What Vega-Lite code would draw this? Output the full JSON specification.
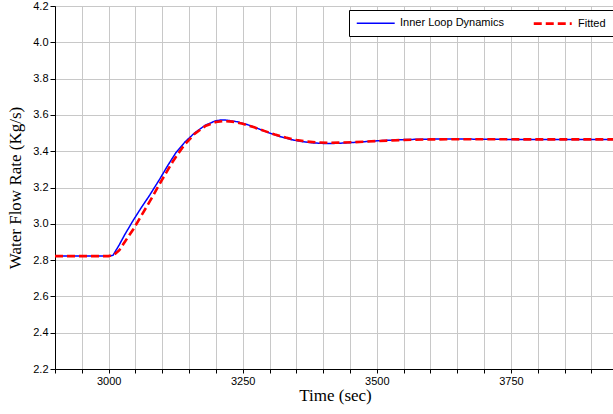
{
  "$schema": "https://vega.github.io/schema/vega-lite/v6.json",
  "autosize": "none",
  "width": 560,
  "height": 363,
  "padding": {"left": 55, "top": 6, "right": 0, "bottom": 45},
  "background": "white",
  "config": {
    "view": {"stroke": "black", "strokeWidth": 1},
    "axis": {
      "labelFont": "Liberation Sans",
      "labelFontSize": 11,
      "labelColor": "#000",
      "titleFont": "Liberation Serif",
      "titleFontSize": 17,
      "titleFontWeight": "normal",
      "titleColor": "#000",
      "domainColor": "#000",
      "tickColor": "#000",
      "gridColor": "#c8c8c8",
      "gridWidth": 1,
      "gridOpacity": 1
    },
    "legend": {
      "title": null, "orient": "none", "legendX": 294, "legendY": 4,
      "direction": "horizontal", "symbolType": "M-1,0H7", "symbolSize": 90,
      "labelFont": "Liberation Sans", "labelFontSize": 11, "labelColor": "#000",
      "labelOffset": 33, "columnPadding": 24, "padding": 7,
      "fillColor": "white", "strokeColor": "black"
    }
  },
  "data": {
    "values": [
      {"t": 2900, "v": 2.822, "s": "Inner Loop Dynamics"},
      {"t": 3000, "v": 2.822, "s": "Inner Loop Dynamics"},
      {"t": 3008, "v": 2.826, "s": "Inner Loop Dynamics"},
      {"t": 3020, "v": 2.885, "s": "Inner Loop Dynamics"},
      {"t": 3030, "v": 2.94, "s": "Inner Loop Dynamics"},
      {"t": 3046, "v": 3.02, "s": "Inner Loop Dynamics"},
      {"t": 3060, "v": 3.085, "s": "Inner Loop Dynamics"},
      {"t": 3077, "v": 3.16, "s": "Inner Loop Dynamics"},
      {"t": 3096, "v": 3.25, "s": "Inner Loop Dynamics"},
      {"t": 3110, "v": 3.32, "s": "Inner Loop Dynamics"},
      {"t": 3125, "v": 3.39, "s": "Inner Loop Dynamics"},
      {"t": 3142, "v": 3.45, "s": "Inner Loop Dynamics"},
      {"t": 3160, "v": 3.50, "s": "Inner Loop Dynamics"},
      {"t": 3180, "v": 3.543, "s": "Inner Loop Dynamics"},
      {"t": 3200, "v": 3.568, "s": "Inner Loop Dynamics"},
      {"t": 3210, "v": 3.572, "s": "Inner Loop Dynamics"},
      {"t": 3220, "v": 3.571, "s": "Inner Loop Dynamics"},
      {"t": 3240, "v": 3.562, "s": "Inner Loop Dynamics"},
      {"t": 3260, "v": 3.545, "s": "Inner Loop Dynamics"},
      {"t": 3280, "v": 3.523, "s": "Inner Loop Dynamics"},
      {"t": 3300, "v": 3.500, "s": "Inner Loop Dynamics"},
      {"t": 3320, "v": 3.480, "s": "Inner Loop Dynamics"},
      {"t": 3340, "v": 3.464, "s": "Inner Loop Dynamics"},
      {"t": 3360, "v": 3.453, "s": "Inner Loop Dynamics"},
      {"t": 3380, "v": 3.446, "s": "Inner Loop Dynamics"},
      {"t": 3400, "v": 3.443, "s": "Inner Loop Dynamics"},
      {"t": 3420, "v": 3.443, "s": "Inner Loop Dynamics"},
      {"t": 3440, "v": 3.445, "s": "Inner Loop Dynamics"},
      {"t": 3460, "v": 3.449, "s": "Inner Loop Dynamics"},
      {"t": 3480, "v": 3.453, "s": "Inner Loop Dynamics"},
      {"t": 3500, "v": 3.457, "s": "Inner Loop Dynamics"},
      {"t": 3540, "v": 3.463, "s": "Inner Loop Dynamics"},
      {"t": 3580, "v": 3.466, "s": "Inner Loop Dynamics"},
      {"t": 3620, "v": 3.467, "s": "Inner Loop Dynamics"},
      {"t": 3660, "v": 3.467, "s": "Inner Loop Dynamics"},
      {"t": 3700, "v": 3.466, "s": "Inner Loop Dynamics"},
      {"t": 3750, "v": 3.465, "s": "Inner Loop Dynamics"},
      {"t": 3800, "v": 3.464, "s": "Inner Loop Dynamics"},
      {"t": 3900, "v": 3.464, "s": "Inner Loop Dynamics"},
      {"t": 3944, "v": 3.464, "s": "Inner Loop Dynamics"},
      {"t": 2900, "v": 2.822, "s": "Fitted"},
      {"t": 3000, "v": 2.822, "s": "Fitted"},
      {"t": 3010, "v": 2.83, "s": "Fitted"},
      {"t": 3020, "v": 2.855, "s": "Fitted"},
      {"t": 3030, "v": 2.90, "s": "Fitted"},
      {"t": 3046, "v": 2.97, "s": "Fitted"},
      {"t": 3060, "v": 3.04, "s": "Fitted"},
      {"t": 3080, "v": 3.14, "s": "Fitted"},
      {"t": 3100, "v": 3.245, "s": "Fitted"},
      {"t": 3120, "v": 3.345, "s": "Fitted"},
      {"t": 3140, "v": 3.43, "s": "Fitted"},
      {"t": 3160, "v": 3.495, "s": "Fitted"},
      {"t": 3180, "v": 3.538, "s": "Fitted"},
      {"t": 3200, "v": 3.561, "s": "Fitted"},
      {"t": 3215, "v": 3.566, "s": "Fitted"},
      {"t": 3230, "v": 3.563, "s": "Fitted"},
      {"t": 3250, "v": 3.551, "s": "Fitted"},
      {"t": 3270, "v": 3.533, "s": "Fitted"},
      {"t": 3290, "v": 3.512, "s": "Fitted"},
      {"t": 3310, "v": 3.492, "s": "Fitted"},
      {"t": 3330, "v": 3.475, "s": "Fitted"},
      {"t": 3350, "v": 3.462, "s": "Fitted"},
      {"t": 3370, "v": 3.453, "s": "Fitted"},
      {"t": 3390, "v": 3.448, "s": "Fitted"},
      {"t": 3410, "v": 3.446, "s": "Fitted"},
      {"t": 3430, "v": 3.447, "s": "Fitted"},
      {"t": 3460, "v": 3.450, "s": "Fitted"},
      {"t": 3500, "v": 3.456, "s": "Fitted"},
      {"t": 3550, "v": 3.462, "s": "Fitted"},
      {"t": 3600, "v": 3.465, "s": "Fitted"},
      {"t": 3650, "v": 3.466, "s": "Fitted"},
      {"t": 3700, "v": 3.466, "s": "Fitted"},
      {"t": 3800, "v": 3.465, "s": "Fitted"},
      {"t": 3944, "v": 3.465, "s": "Fitted"}
    ]
  },
  "mark": {"type": "line", "clip": true},
  "encoding": {
    "x": {
      "field": "t", "type": "quantitative",
      "scale": {"domain": [2900, 3944], "nice": false, "zero": false},
      "axis": {
        "title": "Time (sec)",
        "values": [2900, 2950, 3000, 3050, 3100, 3150, 3200, 3250, 3300, 3350, 3400, 3450, 3500, 3550, 3600, 3650, 3700, 3750, 3800, 3850, 3900],
        "labelExpr": "datum.value % 250 === 0 ? datum.value : ''",
        "tickSize": 4,
        "labelPadding": 2,
        "titlePadding": 1,
        "labelFlush": false
      }
    },
    "y": {
      "field": "v", "type": "quantitative",
      "scale": {"domain": [2.2, 4.2], "nice": false, "zero": false},
      "axis": {
        "title": "Water Flow Rate (Kg/s)",
        "values": [2.2, 2.4, 2.6, 2.8, 3.0, 3.2, 3.4, 3.6, 3.8, 4.0, 4.2],
        "format": ".1f",
        "tickSize": 5,
        "labelPadding": 2,
        "titlePadding": 8,
        "labelFlush": false
      }
    },
    "color": {
      "field": "s", "type": "nominal",
      "scale": {"domain": ["Inner Loop Dynamics", "Fitted"], "range": ["#0000ff", "#ff0000"]},
      "legend": {}
    },
    "strokeDash": {
      "field": "s", "type": "nominal",
      "scale": {"domain": ["Inner Loop Dynamics", "Fitted"], "range": [[1, 0], [8, 4]]},
      "legend": {}
    },
    "strokeWidth": {
      "field": "s", "type": "nominal",
      "scale": {"domain": ["Inner Loop Dynamics", "Fitted"], "range": [1.5, 2.6]},
      "legend": {}
    }
  }
}
